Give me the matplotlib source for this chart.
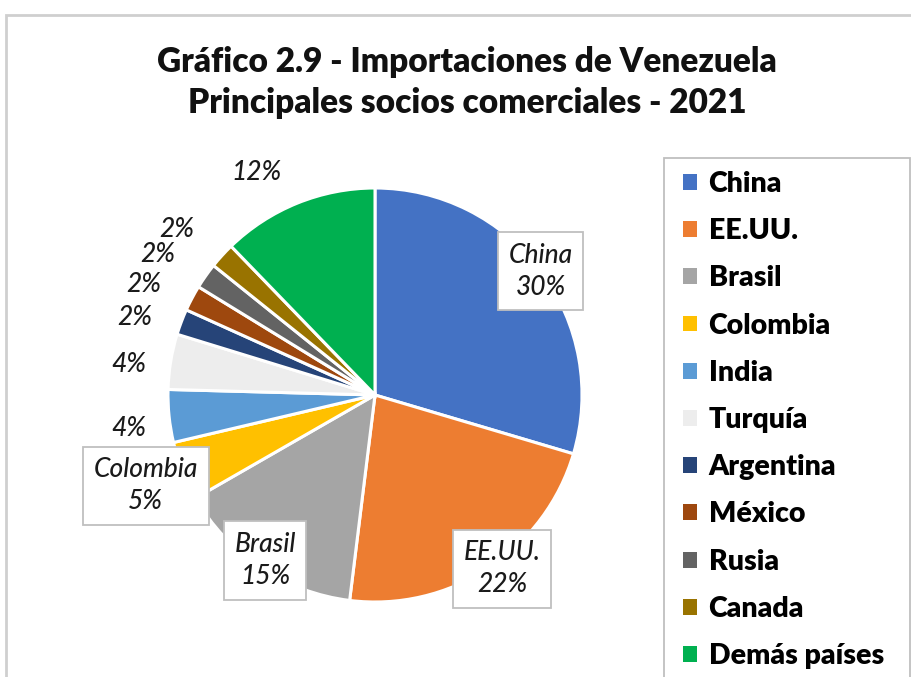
import numpy as np
import matplotlib
matplotlib.use("Agg")
import matplotlib.pyplot as plt
from matplotlib.patches import Rectangle

# ---- data ----
countries = ["China", "EE.UU.", "Brasil", "Colombia", "India", "Turquía",
             "Argentina", "México", "Rusia", "Canada", "Demás países"]
shares = [29.5, 22.3, 14.7, 4.6, 4.1, 4.3, 2.0, 2.0, 2.0, 2.0, 12.2]
boxed_names = ["China", "EE.UU.", "Brasil", "Colombia"]
title_lines = ["Gráfico 2.9 - Importaciones de Venezuela",
               "Principales socios comerciales - 2021"]

# ---- style ----
colors = ["#4472C4", "#ED7D31", "#A5A5A5", "#FFC000", "#5B9BD5", "#EDEDED",
          "#264478", "#9E480E", "#636363", "#997300", "#00B050"]
label_r = [1.0, 1.04, 0.96, 1.19, 1.2, 1.2, 1.22, 1.24, 1.25, 1.25, 1.22]
label_dang = [0, 3, 0, 0, 1.8, 2.2, 2.8, 2.3, 2.2, 2.5, 6]

plt.rcParams['font.family'] = ['Lato', 'DejaVu Sans']

W, H = 912, 677
fig = plt.figure(figsize=(W / 100, H / 100), dpi=100)

# chart area border
fig.patches.append(Rectangle((6 / W, -0.05), 1.05, (H - 15) / H + 0.05,
                             transform=fig.transFigure, fill=False,
                             edgecolor="#cfcfcf", linewidth=2))

# title
for txt, yy in zip(title_lines, [62, 103]):
    fig.text(467 / W, 1 - yy / H, txt, ha="center", va="center",
             fontsize=24, fontweight="heavy", color="#111111")

# pie
cx, cy, R = 375, 395, 207
ax = fig.add_axes([(cx - R) / W, (H - cy - R) / H, 2 * R / W, 2 * R / H])
wedges, _ = ax.pie(shares, colors=colors, startangle=90, counterclock=False,
                   radius=1.0, wedgeprops=dict(edgecolor="white", linewidth=2.2))
ax.set_xlim(-1, 1)
ax.set_ylim(-1, 1)
ax.set_aspect("equal")
ax.axis("off")

total = sum(shares)
for i, (w, name, v) in enumerate(zip(wedges, countries, shares)):
    mid = np.deg2rad((w.theta1 + w.theta2) / 2 + label_dang[i])
    x, y = label_r[i] * np.cos(mid), label_r[i] * np.sin(mid)
    pct = f"{round(100 * v / total):.0f}%"
    if name in boxed_names:
        ax.text(x, y, f"{name}\n{pct}", ha="center", va="center",
                fontsize=19, fontstyle="italic", fontweight="medium",
                color="#1a1a1a", linespacing=1.35, clip_on=False,
                bbox=dict(boxstyle="square,pad=0.4", facecolor="white",
                          edgecolor="#bfbfbf", linewidth=1.3))
    else:
        ax.text(x, y, pct, ha="center", va="center", fontsize=19,
                fontstyle="italic", fontweight="medium", color="#1a1a1a",
                clip_on=False)

# legend frame
fig.patches.append(Rectangle((664 / W, -0.05), (910 - 664) / W,
                             (H - 158) / H + 0.05, transform=fig.transFigure,
                             fill=False, edgecolor="#bfbfbf", linewidth=1.3))
leg = fig.legend(wedges, countries, loc="upper left",
                 bbox_to_anchor=(683 / W, 1 - 171 / H), frameon=False,
                 prop=dict(size=20.5, weight="heavy"), handlelength=0.48,
                 handleheight=0.48, handletextpad=0.42, labelspacing=0.745,
                 borderpad=0, borderaxespad=0)
for h in leg.legend_handles:
    h.set_edgecolor("none")

fig.savefig("out.png", dpi=100, facecolor="white")
